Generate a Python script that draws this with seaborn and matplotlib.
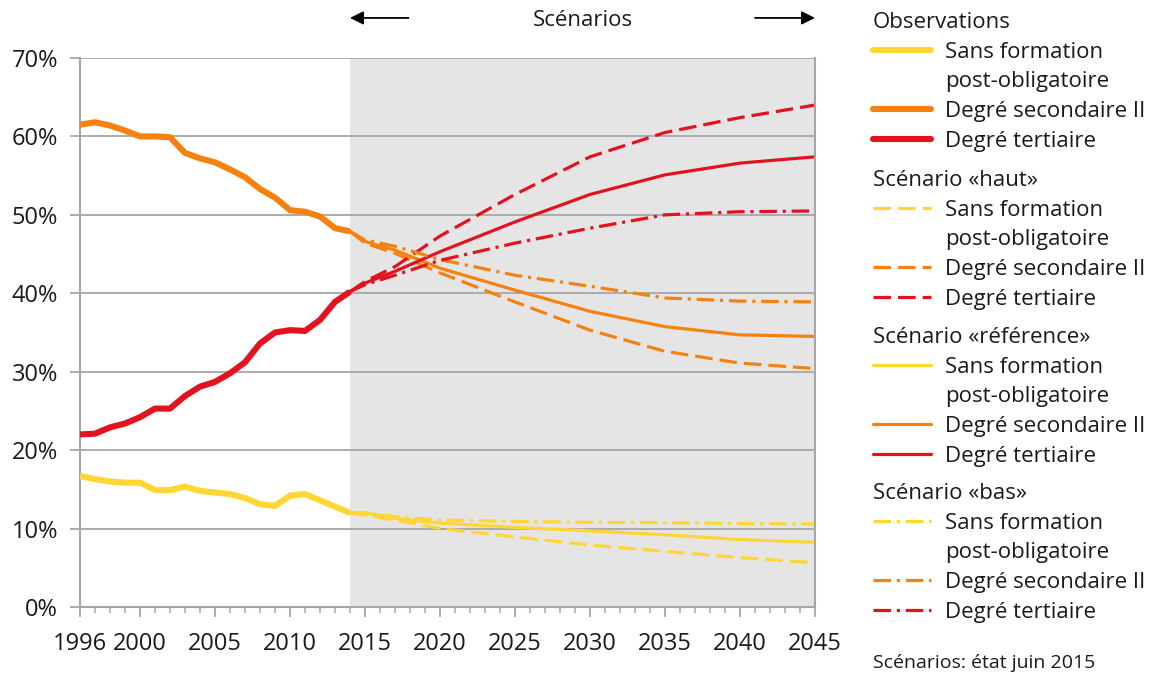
import numpy as np
import pandas as pd
import matplotlib
matplotlib.use("Agg")
import matplotlib.pyplot as plt
from matplotlib.lines import Line2D
import seaborn as sns

# ---------------- data ----------------
years_obs = list(range(1996, 2015))
obs_sans = [16.7, 16.3, 16.0, 15.85, 15.85, 14.9, 14.9, 15.35, 14.8, 14.6,
            14.4, 13.9, 13.1, 12.9, 14.2, 14.4, 13.6, 12.8, 12.0]
obs_sec2 = [61.5, 61.8, 61.4, 60.75, 60.0, 60.0, 59.9, 57.9, 57.2, 56.7,
            55.8, 54.8, 53.3, 52.2, 50.6, 50.4, 49.8, 48.3, 47.9]
obs_tert = [22.0, 22.1, 22.9, 23.4, 24.2, 25.3, 25.3, 26.9, 28.1, 28.7,
            29.8, 31.2, 33.6, 35.0, 35.3, 35.2, 36.6, 38.9, 40.2]

years_sc = [2014, 2015, 2017, 2020, 2025, 2030, 2035, 2040, 2045]
haut_sans = [12.0, 11.7, 11.1, 10.0, 8.95, 7.9, 7.1, 6.3, 5.65]
haut_sec2 = [47.9, 46.4, 45.1, 42.6, 38.9, 35.3, 32.6, 31.1, 30.4]
haut_tert = [40.2, 41.5, 43.4, 47.3, 52.6, 57.4, 60.5, 62.4, 64.0]
ref_sans = [12.0, 12.0, 11.3, 10.7, 10.15, 9.7, 9.2, 8.6, 8.25]
ref_sec2 = [47.9, 46.6, 45.5, 43.2, 40.4, 37.7, 35.75, 34.7, 34.5]
ref_tert = [40.2, 41.3, 42.8, 45.3, 49.1, 52.6, 55.1, 56.6, 57.4]
bas_sans = [12.0, 12.0, 11.5, 11.1, 10.9, 10.8, 10.75, 10.65, 10.6]
bas_sec2 = [47.9, 46.8, 46.0, 44.3, 42.3, 40.9, 39.4, 39.0, 38.9]
bas_tert = [40.2, 41.1, 42.3, 44.2, 46.4, 48.3, 50.0, 50.4, 50.5]

categories = ["Sans formation\npost-obligatoire", "Degré secondaire II", "Degré tertiaire"]
sections = ["Observations", "Scénario «haut»", "Scénario «référence»", "Scénario «bas»"]
y_ticks = [0, 10, 20, 30, 40, 50, 60, 70]
x_major = [1996, 2000, 2005, 2010, 2015, 2020, 2025, 2030, 2035, 2040, 2045]

# ---------------- style ----------------
sns.set_theme(style="white")
plt.rcParams['font.family'] = ['Open Sans', 'DejaVu Sans']

YEL = "#FFD633"
ORA = "#F5820F"
RED = "#E3121F"
GRID = "#A6A6A6"
TXT = "#1A1A1A"
colors = [YEL, ORA, RED]

LW_OBS = 4.4
LW_SC = 2.3
ls_haut = (0, (5.5, 2.2))
ls_ref = "-"
ls_bas = (0, (5.5, 1.8, 1.0, 1.8))

fig = plt.figure(figsize=(11.5, 6.78), dpi=100)
ax = fig.add_axes([80 / 1150, 1 - 607 / 678, (815 - 80) / 1150, (607 - 58) / 678])
ax.set_facecolor("white")

# scenario shading
ax.axvspan(2014, 2045, color="#E5E5E5", zorder=0, lw=0)

# grid lines
for yv in y_ticks[1:]:
    ax.axhline(yv, color=GRID, lw=1.3, zorder=1)

# observed lines
for vals, c in zip([obs_sans, obs_sec2, obs_tert], colors):
    sns.lineplot(x=years_obs, y=vals, color=c, lw=LW_OBS, ax=ax, zorder=3,
                 solid_capstyle="butt", solid_joinstyle="round")

# scenario lines
sc_sets = [
    ([haut_sans, haut_sec2, haut_tert], ls_haut),
    ([ref_sans, ref_sec2, ref_tert], ls_ref),
    ([bas_sans, bas_sec2, bas_tert], ls_bas),
]
for series, ls in sc_sets:
    for vals, c in zip(series, colors):
        sns.lineplot(x=years_sc, y=vals, color=c, lw=LW_SC, linestyle=ls, ax=ax, zorder=2)

ax.set_xlim(1996, 2045)
ax.set_ylim(0, 70)
ax.set_xlabel("")
ax.set_ylabel("")

ax.set_yticks(y_ticks)
ax.set_yticklabels([f"{v}%" for v in y_ticks])
ax.set_xticks(x_major)
ax.set_xticklabels([str(v) for v in x_major])
ax.set_xticks(range(1996, 2046), minor=True)

for s in ["left", "bottom", "right"]:
    ax.spines[s].set_visible(True)
    ax.spines[s].set_color(GRID)
    ax.spines[s].set_linewidth(1.5)
ax.spines["top"].set_visible(False)

ax.tick_params(axis="y", which="major", length=7.2, width=1.3, color=GRID,
               labelsize=17, labelcolor=TXT, pad=8.5, left=True)
ax.tick_params(axis="x", which="major", length=7, width=1.3, color=GRID,
               labelsize=17, labelcolor=TXT, pad=11, bottom=True, direction="out")
ax.tick_params(axis="x", which="minor", length=4, width=1.1, color=GRID, bottom=True,
               direction="out")

# top annotation
ax.text(2029.5, 1.068, "Scénarios", transform=ax.get_xaxis_transform(),
        ha="center", va="center", fontsize=16, color=TXT)
ax.annotate("", xy=(2014, 1.073), xytext=(2017.9, 1.073), xycoords=ax.get_xaxis_transform(),
            arrowprops=dict(arrowstyle="-|>", color="black", lw=1.3, mutation_scale=20,
                            shrinkA=0, shrinkB=0))
ax.annotate("", xy=(2045, 1.073), xytext=(2041.0, 1.073), xycoords=ax.get_xaxis_transform(),
            arrowprops=dict(arrowstyle="-|>", color="black", lw=1.3, mutation_scale=20,
                            shrinkA=0, shrinkB=0))

# legends
styles = [("-", LW_OBS), (ls_haut, LW_SC), (ls_ref, LW_SC), (ls_bas, LW_SC)]
tops = [12, 170, 327, 483]
for title, (ls, lw), top in zip(sections, styles, tops):
    handles, labels = [], []
    for c, lab in zip(colors, categories):
        parts = lab.split("\n")
        handles.append(Line2D([], [], color=c, lw=lw, linestyle=ls))
        labels.append(parts[0])
        for p in parts[1:]:
            handles.append(Line2D([], [], color="none", lw=0))
            labels.append(p)
    leg = fig.legend(handles, labels, title=title, loc="upper left",
                     bbox_to_anchor=(873 / 1150, 1 - top / 678),
                     frameon=False, fontsize=16, title_fontsize=16,
                     handlelength=2.6, handletextpad=0.65, labelspacing=0.39,
                     borderpad=0.0, borderaxespad=0.0, alignment="left")
    for t in leg.get_texts():
        t.set_color(TXT)
    leg.get_title().set_color(TXT)

fig.text(873 / 1150, 1 - 663 / 678, "Scénarios: état juin 2015", fontsize=14,
         color=TXT, ha="left", va="center")

fig.savefig("out.png", dpi=100)
